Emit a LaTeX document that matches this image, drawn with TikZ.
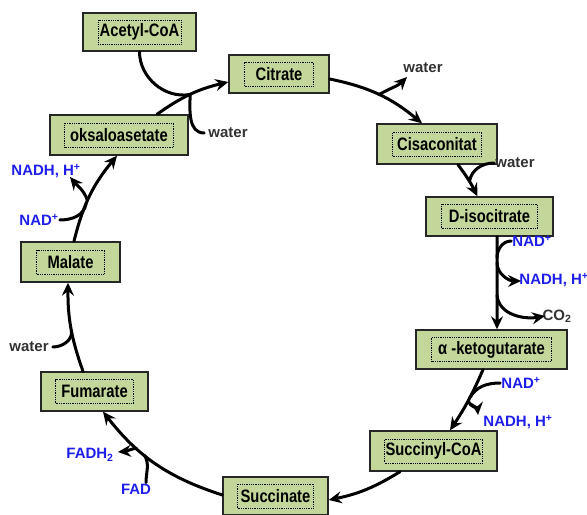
\documentclass[tikz,border=0pt]{standalone}
\usepackage{fontspec}
\setmainfont{Liberation Sans}
\newfontfamily\boxfont[FakeStretch=0.82]{Liberation Sans}
\usetikzlibrary{arrows.meta}
\definecolor{boxfill}{RGB}{196,215,155}
\definecolor{nadblue}{RGB}{30,30,235}
\definecolor{watergray}{RGB}{50,50,50}
\begin{document}
\begin{tikzpicture}[x=1bp,y=-1bp,
  box/.style={draw=black!85, line width=1.4bp, fill=boxfill, inner sep=0pt, minimum height=39bp},
  inframe/.style={draw=black, densely dotted, line width=0.8bp, minimum height=24bp, inner sep=1bp,
    font=\boxfont\bfseries\fontsize{18bp}{20bp}\selectfont},
  lbl/.style={font=\bfseries\fontsize{15bp}{17bp}\selectfont, inner sep=1bp},
  lblw/.style={lbl, text=watergray},
  lblb/.style={lbl, text=nadblue},
  flow/.style={draw, line width=3bp, line cap=round, -{Stealth[length=13bp,width=12bp,inset=4.5bp]}},
  feed/.style={draw, line width=3bp, line cap=round}
]
\useasboundingbox (0,0) rectangle (587,515);

% boxes
\node[box, minimum width=113bp, minimum height=38bp] (acoa) at (139.5,32) {};
\node[inframe, minimum width=83bp] (acoa-t) at (acoa) {Acetyl-CoA};
\node[box, minimum width=100bp, minimum height=38bp] (cit) at (279,74) {};
\node[inframe, minimum width=69bp] (cit-t) at (cit) {Citrate};
\node[box, minimum width=120bp, minimum height=40bp] (cis) at (437,144) {};
\node[inframe, minimum width=89bp] (cis-t) at (cis) {Cisaconitat};
\node[box, minimum width=127bp] (diso) at (489.5,216.5) {};
\node[inframe, minimum width=96bp] (diso-t) at (diso) {D-isocitrate};
\node[box, minimum width=151bp] (akg) at (491.5,349.5) {};
\node[inframe, minimum width=120bp] (akg-t) at (akg) {α -ketogutarate};
\node[box, minimum width=127bp, minimum height=40bp] (succoa) at (433.5,451) {};
\node[inframe, minimum width=98bp] (succoa-t) at (succoa) {Succinyl-CoA};
\node[box, minimum width=105bp, minimum height=38bp] (succ) at (275.5,496) {};
\node[inframe, minimum width=76bp] (succ-t) at (succ) {Succinate};
\node[box, minimum width=107bp] (fum) at (94.5,391.5) {};
\node[inframe, minimum width=78bp] (fum-t) at (fum) {Fumarate};
\node[box, minimum width=99bp, minimum height=40bp] (mal) at (70.5,262) {};
\node[inframe, minimum width=68bp] (mal-t) at (mal) {Malate};
\node[box, minimum width=138bp, minimum height=40bp] (oks) at (119,135) {};
\node[inframe, minimum width=109bp] (oks-t) at (oks) {oksaloasetate};

% side labels
\node[lblw] (w1) at (228,133) {water};
\node[lblw] (w2) at (423,68) {water};
\node[lblw] (w3) at (515,163) {water};
\node[lblb] (n4) at (532,241) {NAD\textsuperscript{+}};
\node[lblb] (h4) at (554,280) {NADH, H\textsuperscript{+}};
\node[lblw] (co2) at (557,316) {CO\textsubscript{2}};
\node[lblb] (n5) at (521,383) {NAD\textsuperscript{+}};
\node[lblb] (h5) at (518,422) {NADH, H\textsuperscript{+}};
\node[lblb] (fadh) at (90,455) {FADH\textsubscript{2}};
\node[lblb] (fad) at (136,489) {FAD};
\node[lblw] (w7) at (29,347) {water};
\node[lblb] (n8) at (39,220) {NAD\textsuperscript{+}};
\node[lblb] (h8) at (46,171) {NADH, H\textsuperscript{+}};

% free ends of outgoing branches
\coordinate (t2) at (407,77);
\coordinate (t4b) at (521,281);
\coordinate (t4c) at (545,316);
\coordinate (t5) at (478,415);
\coordinate (t6) at (118,452);
\coordinate (t8) at (70,177);

% oksaloasetate -> citrate, with acetyl-CoA and water
\draw[flow] ([xshift=38bp]oks.north) to[bend left=11] coordinate[pos=0.49] (m1) ([yshift=-8bp]cit.west);
\draw[feed] (acoa.south) to[out=-90,in=190] (m1);
\draw[feed] ([xshift=-3bp]w1.west) to[out=180,in=-92] (m1);

% citrate -> cisaconitat, water out
\draw[flow] ([yshift=-5bp]cit.east) to[bend left=14] coordinate[pos=0.5] (m2) ([xshift=-15bp]cis.north);
\draw[flow] (m2) to[out=30,in=225] (t2);

% cisaconitat -> D-isocitrate, water in
\draw[flow] ([xshift=21bp]cis.south) to[bend left=5] coordinate[pos=0.55] (m3) ([xshift=-12bp]diso.north);
\draw[feed] (w3.west) to[out=180,in=80] (m3);

% D-isocitrate -> alpha-ketoglutarate
\draw[flow] ([xshift=7.5bp]diso.south) -- coordinate[pos=0.23] (m4a) coordinate[pos=0.28] (m4b) coordinate[pos=0.63] (m4c) ([xshift=5.5bp]akg.north);
\draw[feed] (n4.west) to[out=180,in=90] (m4a);
\draw[flow] (m4b) to[out=-90,in=180] (t4b);
\draw[flow] (m4c) to[out=-85,in=190] (t4c);

% alpha-ketoglutarate -> succinyl-CoA
\draw[flow] ([xshift=-8.5bp]akg.south) to[bend left=5] coordinate[pos=0.45] (m5a) coordinate[pos=0.5] (m5b) ([xshift=16.5bp]succoa.north);
\draw[feed] (n5.west) to[out=180,in=60] (m5a);
\draw[flow] (m5b) to[out=-70,in=95] (t5);

% succinyl-CoA -> succinate
\draw[flow] ([xshift=-33.5bp]succoa.south) to[bend left=10] ([yshift=-4bp]succ.east);

% succinate -> fumarate
\draw[flow] ([yshift=1bp]succ.west) to[bend left=17] coordinate[pos=0.6] (m6a) coordinate[pos=0.68] (m6b) ([xshift=8.5bp]fum.south);
\draw[feed] ([xshift=10bp]fad.north) to[out=90,in=-60] (m6a);
\draw[flow] (m6b) to[out=195,in=5] (t6);

% fumarate -> malate
\draw[flow] ([xshift=-11.5bp]fum.north) to[bend left=10] coordinate[pos=0.47] (m7) ([xshift=-2.5bp]mal.south);
\draw[feed] ([xshift=3bp]w7.east) to[out=0,in=-80] (m7);

% malate -> oksaloasetate
\draw[flow] ([xshift=3.5bp]mal.north) to[bend left=13] coordinate[pos=0.4] (m8a) coordinate[pos=0.44] (m8b) ([xshift=-2bp]oks.south);
\draw[feed] (n8.east) to[out=0,in=-100] (m8a);
\draw[flow] (m8b) to[out=110,in=-50] (t8);
\end{tikzpicture}
\end{document}
